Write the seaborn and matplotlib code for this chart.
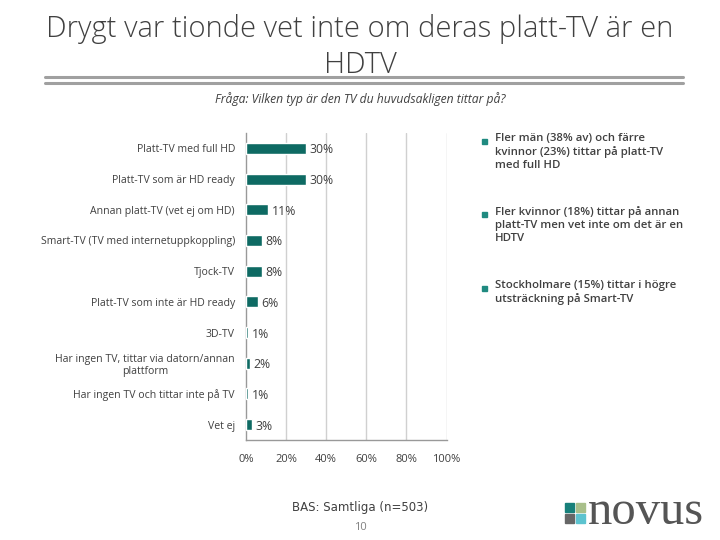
import pandas as pd
import numpy as np
import matplotlib.pyplot as plt
import seaborn as sns
from matplotlib.patches import Rectangle
from matplotlib.lines import Line2D

categories = [
	"Platt-TV med full HD",
	"Platt-TV som är HD ready",
	"Annan platt-TV (vet ej om HD)",
	"Smart-TV (TV med internetuppkoppling)",
	"Tjock-TV",
	"Platt-TV som inte är HD ready",
	"3D-TV",
	"Har ingen TV, tittar via datorn/annan\nplattform",
	"Har ingen TV och tittar inte på TV",
	"Vet ej",
]
values = [30, 30, 11, 8, 8, 6, 1, 2, 1, 3]
xticks = [0, 20, 40, 60, 80, 100]

bullets = [
	"Fler män (38% av) och färre\nkvinnor (23%) tittar på platt-TV\nmed full HD",
	"Fler kvinnor (18%) tittar på annan\nplatt-TV men vet inte om det är en\nHDTV",
	"Stockholmare (15%) tittar i högre\nutsträckning på Smart-TV",
]

title = "Drygt var tionde vet inte om deras platt-TV är en\nHDTV"
question = "Fråga: Vilken typ är den TV du huvudsakligen tittar på?"
base = "BAS: Samtliga (n=503)"
page = "10"

TEXT = "#404040"
BAR = "#0e6a63"
GRID = "#d0d0d0"


def main():
	sns.set_style("white")
	plt.rcParams['font.family'] = ['Open Sans', 'DejaVu Sans']

	df = pd.DataFrame({"cat": categories, "val": values})

	fig = plt.figure(figsize=(7.2, 5.4), dpi=100)
	ax = fig.add_axes([0.3417, 0.1852, 0.2785, 0.5685])

	sns.barplot(data=df, x="val", y="cat", orient="h", color=BAR,
		width=0.36, saturation=1, ax=ax, zorder=3)

	ax.set_xlim(0, 100)
	ax.set_ylim(len(categories) - 0.5, -0.5)
	ax.set_xticks(xticks)
	ax.set_xticklabels([f"{t}%" for t in xticks], fontsize=8, color=TEXT)
	ax.set_xlabel("")
	ax.set_ylabel("")
	ax.set_yticks(range(len(categories)))
	ax.set_yticklabels(categories, fontsize=7.6, color=TEXT, multialignment="center")
	ax.tick_params(axis="y", length=0, pad=8)
	ax.set_yticks(np.arange(-0.5, len(categories), 1), minor=True)
	ax.tick_params(axis="y", which="minor", length=4, color="#999999", direction="out")
	ax.tick_params(axis="x", length=4, color="#999999", direction="out", pad=6)

	for x in xticks[1:]:
		ax.axvline(x, color=GRID, lw=1, zorder=1)

	for s in ["top", "right"]:
		ax.spines[s].set_visible(False)
	for s in ["left", "bottom"]:
		ax.spines[s].set_color("#999999")
		ax.spines[s].set_linewidth(1)

	for i, v in enumerate(values):
		ax.text(v + 1.8, i + 0.05, f"{v}%", va="center", ha="left",
			fontsize=8.8, color=TEXT, zorder=4)

	fig.text(0.5, 1 - 47 / 540, title, ha="center", va="center", fontsize=21,
		color=TEXT, linespacing=1.28, fontweight="light")
	fig.add_artist(Line2D([0.063, 0.948], [1 - 77 / 540] * 2, color="#a0a0a0", lw=2.2))
	fig.add_artist(Line2D([0.063, 0.948], [1 - 83 / 540] * 2, color="#a0a0a0", lw=2.2))
	fig.text(0.5, 1 - 99 / 540, question, ha="center", va="center",
		fontsize=8.7, style="italic", color=TEXT)

	ys = [141, 214, 288]
	for y, b in zip(ys, bullets):
		fig.add_artist(Rectangle((482 / 720, 1 - (y + 3) / 540), 5 / 720, 5 / 540,
			color="#1f8a80", transform=fig.transFigure))
		fig.text(495 / 720, 1 - (y - 8) / 540, b, ha="left", va="top",
			fontsize=8.2, color=TEXT, linespacing=1.25, fontweight="semibold")

	fig.text(0.5, 1 - 507 / 540, base, ha="center", va="center", fontsize=8.5,
		color=TEXT, family="DejaVu Sans")
	fig.text(0.5, 1 - 527 / 540, page, ha="center", va="center", fontsize=8,
		color="#808080")

	# novus logo
	sq = [(565, 503, "#17807a"), (576, 503, "#a8bf8a"),
		(565, 514, "#666666"), (576, 514, "#5cc3cf")]
	for x, y, c in sq:
		fig.add_artist(Rectangle((x / 720, 1 - (y + 9) / 540), 9 / 720, 9 / 540,
			color=c, transform=fig.transFigure))
	fig.text(588 / 720, 1 - 524 / 540, "novus", ha="left", va="baseline",
		fontsize=35, family="Liberation Serif", color="#555555")

	fig.savefig("out.png", dpi=100)


if __name__ == "__main__":
	main()
